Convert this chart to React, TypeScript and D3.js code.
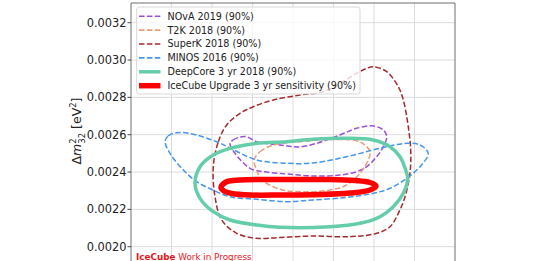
import React from "react";
import * as d3 from "d3";

// x: sin^2(theta23), y: Δm²32 in units of 1e-3 eV²
const xGrid = [0.35, 0.4, 0.45, 0.5, 0.55, 0.6, 0.65];
const yTicks = [2.0, 2.2, 2.4, 2.6, 2.8, 3.0, 3.2];
const yTickLabels = ["0.0020", "0.0022", "0.0024", "0.0026", "0.0028", "0.0030", "0.0032"];

const novaPts: [number, number][] = [
  [0.4222, 2.5539], [0.4259, 2.5716], [0.4346, 2.5877], [0.4428, 2.5893], [0.4552, 2.5625],
  [0.484, 2.5448], [0.5004, 2.5357], [0.5086, 2.5341], [0.5293, 2.5539], [0.558, 2.5984],
  [0.5786, 2.6343], [0.5991, 2.6466], [0.6115, 2.6252], [0.6157, 2.5893], [0.6115, 2.5357],
  [0.6033, 2.4821], [0.591, 2.4286], [0.5786, 2.4018], [0.558, 2.3841], [0.5247, 2.3788],
  [0.4922, 2.3895], [0.4633, 2.4018], [0.4469, 2.42], [0.4284, 2.5004],
];
const t2kPts: [number, number][] = [
  [0.4519, 2.4645], [0.4593, 2.5089], [0.4757, 2.5448], [0.5086, 2.5625], [0.5457, 2.5743],
  [0.5786, 2.5679], [0.5889, 2.5448], [0.5951, 2.5089], [0.593, 2.4645], [0.5827, 2.3932],
  [0.5663, 2.3305], [0.5457, 2.3037], [0.5086, 2.2946], [0.484, 2.3075], [0.4617, 2.3573],
  [0.4552, 2.4109],
];
const superkPts: [number, number][] = [
  [0.4016, 2.4286], [0.4078, 2.5625], [0.4181, 2.652], [0.4346, 2.7147], [0.451, 2.75],
  [0.4757, 2.7859], [0.5086, 2.8127], [0.5374, 2.8304], [0.558, 2.8754], [0.5786, 2.9289],
  [0.591, 2.9557], [0.5991, 2.9643], [0.6157, 2.9375], [0.63, 2.8571], [0.6362, 2.7859],
  [0.6423, 2.6429], [0.6453, 2.518], [0.6444, 2.3932], [0.6383, 2.2679], [0.63, 2.1789],
  [0.6198, 2.1071], [0.6033, 2.0718], [0.5704, 2.0536], [0.5247, 2.0573], [0.484, 2.0493],
  [0.4552, 2.045], [0.4305, 2.0718], [0.412, 2.143], [0.4037, 2.2679],
];
const minosPts: [number, number][] = [
  [0.342, 2.5625], [0.3457, 2.593], [0.3564, 2.6107], [0.3728, 2.6064], [0.4058, 2.5625],
  [0.4222, 2.5287], [0.4552, 2.4645], [0.4922, 2.4468], [0.5247, 2.4484], [0.5663, 2.4821],
  [0.6074, 2.5271], [0.6404, 2.5539], [0.6568, 2.5448], [0.667, 2.5004], [0.6568, 2.4286],
  [0.6404, 2.3664], [0.6198, 2.3129], [0.5991, 2.2861], [0.5663, 2.2646], [0.5247, 2.2502],
  [0.4922, 2.2411], [0.4552, 2.2539], [0.4222, 2.2679], [0.4012, 2.3037], [0.3811, 2.3482],
  [0.3646, 2.4109], [0.3481, 2.5004],
];
const deepcorePts: [number, number][] = [
  [0.379, 2.3396], [0.3852, 2.4286], [0.4016, 2.4912], [0.4222, 2.5271], [0.4552, 2.5539],
  [0.4922, 2.5625], [0.5247, 2.5754], [0.5663, 2.5807], [0.5991, 2.5716], [0.6198, 2.5357],
  [0.6321, 2.4821], [0.6404, 2.3932], [0.6416, 2.3664], [0.6362, 2.2861], [0.6238, 2.2143],
  [0.6074, 2.1607], [0.5827, 2.1254], [0.5457, 2.1071], [0.484, 2.1039], [0.4552, 2.1162],
  [0.4222, 2.143], [0.4016, 2.1875], [0.3852, 2.2593],
];
const icecubePts: [number, number][] = [
  [0.4111, 2.3171], [0.4173, 2.3466], [0.4346, 2.3573], [0.4716, 2.36], [0.5086, 2.36],
  [0.5457, 2.36], [0.5765, 2.3546], [0.5951, 2.3439], [0.6025, 2.3252], [0.5951, 2.3037],
  [0.5704, 2.2877], [0.5333, 2.2796], [0.484, 2.277], [0.4469, 2.277], [0.4247, 2.285],
  [0.4148, 2.2984],
];

const seriesNames = [
  "NOvA 2019 (90%)",
  "T2K 2018 (90%)",
  "SuperK 2018 (90%)",
  "MINOS 2016 (90%)",
  "DeepCore 3 yr 2018 (90%)",
  "IceCube Upgrade 3 yr sensitivity (90%)",
];
const seriesData = [novaPts, t2kPts, superkPts, minosPts, deepcorePts, icecubePts];
const seriesColors = ["#9b4fd8", "#e99c7c", "#a8292c", "#4596ee", "#66cdaa", "#ff0000"];
const seriesWidths = [1.5, 1.5, 1.5, 1.5, 3.5, 5.5];
const seriesDash = ["5.5,2.4", "5.5,2.4", "5.5,2.4", "5.5,2.4", "", ""];
const legendWidths = [1.6, 1.6, 1.6, 1.6, 3.5, 5.5];

const W = 533;
const H = 261;
const FONT = "DejaVu Sans, sans-serif";

export default function App() {
  const left = 131, right = 455, top = 3, bottom = 275;
  const x = d3.scaleLinear().domain([0.3, 0.7]).range([left, right]);
  const y = d3.scaleLinear().domain([2.0, 3.2]).range([246.7, 22.7]);
  const line = d3
    .line<[number, number]>()
    .x((d) => x(d[0]))
    .y((d) => y(d[1]))
    .curve(d3.curveCatmullRomClosed.alpha(0.5));

  const legX = 136.7, legY = 7, legW = 223.3, legH = 87;
  const rowY = (i: number) => 16.2 + i * 13.9;

  return (
    <div style={{ position: "absolute", left: 0, top: 0 }}>
      <svg width={W} height={H} viewBox={`0 0 ${W} ${H}`} style={{ display: "block" }}>
        <rect x={0} y={0} width={W} height={H} fill="#fff" />
        <defs>
          <clipPath id="plotclip">
            <rect x={left} y={top} width={right - left} height={bottom - top} />
          </clipPath>
        </defs>
        {/* grid */}
        <g stroke="#dcdcdc" strokeWidth={1}>
          {xGrid.map((g) => (
            <line key={"vx" + g} x1={x(g)} x2={x(g)} y1={top} y2={bottom} />
          ))}
          {yTicks.map((t) => (
            <line key={"hy" + t} x1={left} x2={right} y1={y(t)} y2={y(t)} />
          ))}
        </g>
        {/* contours */}
        <g clipPath="url(#plotclip)" fill="none">
          {seriesData.map((pts, i) => (
            <path
              key={seriesNames[i]}
              d={line(pts) || ""}
              stroke={seriesColors[i]}
              strokeWidth={seriesWidths[i]}
              strokeDasharray={seriesDash[i] || undefined}
              strokeLinejoin="round"
            />
          ))}
        </g>
        {/* spines */}
        <g stroke="#6e6e6e" strokeWidth={1} fill="none">
          <line x1={left} x2={left} y1={top} y2={H + 5} />
          <line x1={right} x2={right} y1={top} y2={H + 5} />
          <line x1={left} x2={right} y1={top} y2={top} />
        </g>
        {/* y ticks */}
        <g>
          {yTicks.map((t, i) => (
            <g key={"yt" + t}>
              <line x1={left - 3.5} x2={left} y1={y(t)} y2={y(t)} stroke="#333" strokeWidth={0.9} />
              <text
                x={126.5}
                y={y(t)}
                dy="0.36em"
                textAnchor="end"
                fontFamily={FONT}
                fontSize={11.4}
                fill="#222"
              >
                {yTickLabels[i]}
              </text>
            </g>
          ))}
        </g>
        {/* y label */}
        <text
          transform="translate(81,131) rotate(-90)"
          textAnchor="middle"
          fontFamily={FONT}
          fontSize={12.5}
          fill="#222"
        >
          <tspan>Δ</tspan>
          <tspan fontStyle="italic">m</tspan>
          <tspan fontSize={8.5} dy={-5}>2</tspan>
          <tspan fontSize={8.5} dx={-5.4} dy={8.5}>32</tspan>
          <tspan dy={-3.5}> [eV</tspan>
          <tspan fontSize={8.5} dy={-5}>2</tspan>
          <tspan dy={5}>]</tspan>
        </text>
        {/* legend */}
        <rect
          x={legX}
          y={legY}
          width={legW}
          height={legH}
          rx={2.5}
          fill="#fff"
          fillOpacity={0.8}
          stroke="#d4d4d4"
          strokeWidth={0.9}
        />
        {seriesNames.map((n, i) => (
          <g key={"leg" + n}>
            <line
              x1={139}
              x2={160.5}
              y1={rowY(i)}
              y2={rowY(i)}
              stroke={seriesColors[i]}
              strokeWidth={legendWidths[i]}
              strokeDasharray={seriesDash[i] || undefined}
            />
            <text
              x={167.5}
              y={rowY(i)}
              dy="0.36em"
              fontFamily={FONT}
              fontSize={9.6}
              fill="#222"
            >
              {n}
            </text>
          </g>
        ))}
        {/* watermark */}
        <text x={136} y={259.5} fontFamily={FONT} fontSize={8.8} fill="#e8141a">
          <tspan fontWeight="bold">IceCube</tspan>
          <tspan> Work in Progress</tspan>
        </text>
      </svg>
    </div>
  );
}
